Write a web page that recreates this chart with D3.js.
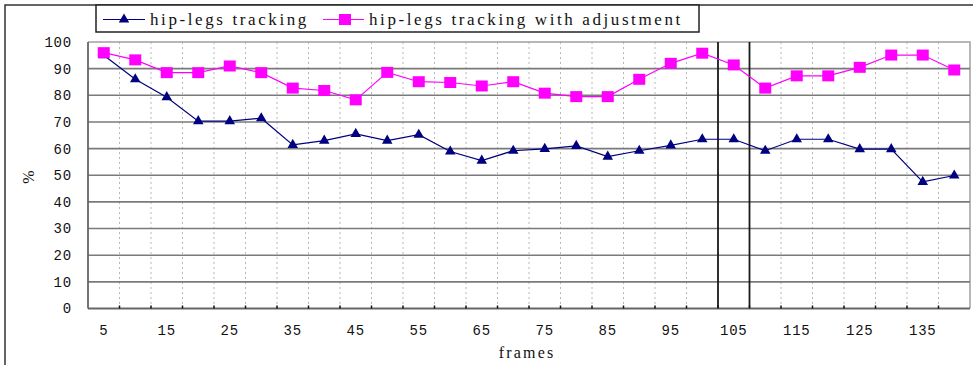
<!DOCTYPE html>
<html>
<head>
<meta charset="utf-8">
<script src="https://cdn.jsdelivr.net/npm/d3@7"></script>
<style>
  html, body { margin: 0; padding: 0; background: #fff; }
  svg { display: block; }
</style>
</head>
<body>
<svg id="chart" width="973" height="365"></svg>
<script>
const frames = [5,10,15,20,25,30,35,40,45,50,55,60,65,70,75,80,85,90,95,100,105,110,115,120,125,130,135,140];
const tracking = [95,86,79.3,70.3,70.3,71.4,61.4,63,65.5,63,65.2,58.9,55.5,59.2,59.9,61,57,59.2,61.2,63.5,63.5,59.2,63.5,63.5,59.8,59.8,47.5,49.9];
const trackingAdj = [96,93.3,88.5,88.5,91,88.5,82.7,81.8,78.3,88.6,85.1,84.8,83.5,85.1,80.8,79.5,79.5,86,92,95.8,91.4,82.7,87.3,87.3,90.5,95.1,95.1,89.5];
const yTicks = [0,10,20,30,40,50,60,70,80,90,100];
const xTickLabels = [5,15,25,35,45,55,65,75,85,95,105,115,125,135];
const highlightFrame = 105;
const seriesNames = ["hip-legs tracking", "hip-legs tracking with adjustment"];

const svg = d3.select("#chart");
const L = 88, R = 970, T = 42, B = 308.5;
const serif = "Liberation Serif, DejaVu Serif, serif";

const x = d3.scaleBand().domain(frames).range([L, R]).padding(0);
const y = d3.scaleLinear().domain([0, 100]).range([B, T]);
const cx = d => x(d) + x.bandwidth() / 2;

// outer frame
svg.append("path").attr("d", `M5,370 V5 H980`).attr("fill", "none")
  .attr("stroke", "#333").attr("stroke-width", 1.5);

// vertical dotted grid at category boundaries
const bounds = d3.range(1, frames.length).map(i => L + i * x.bandwidth());
svg.append("g").selectAll("line").data(bounds).join("line")
  .attr("x1", d => d).attr("x2", d => d).attr("y1", T).attr("y2", B)
  .attr("stroke", "#b8b8b8").attr("stroke-width", 1).attr("stroke-dasharray", "2,3");

// plot border top/right
svg.append("path").attr("d", `M${L},${T} H${R} V${B}`).attr("fill", "none")
  .attr("stroke", "#a0a0a0").attr("stroke-width", 1.5);

// horizontal gridlines
svg.append("g").selectAll("line").data(yTicks.filter(v => v > 0 && v < 100)).join("line")
  .attr("x1", L).attr("x2", R).attr("y1", d => y(d)).attr("y2", d => y(d))
  .attr("stroke", "#7a7a7a").attr("stroke-width", 1.6);

// highlight box around 105
const hx0 = x(highlightFrame), hx1 = x(highlightFrame) + x.bandwidth();
svg.append("g").selectAll("line").data([hx0, hx1]).join("line")
  .attr("x1", d => d).attr("x2", d => d).attr("y1", T).attr("y2", B)
  .attr("stroke", "#1a1a1a").attr("stroke-width", 1.8);

// axes lines
svg.append("line").attr("x1", L).attr("x2", L).attr("y1", T).attr("y2", B)
  .attr("stroke", "#666").attr("stroke-width", 1.8);
svg.append("line").attr("x1", L).attr("x2", R).attr("y1", B).attr("y2", B)
  .attr("stroke", "#666").attr("stroke-width", 1.8);
// small tick marks at bottom
svg.append("g").selectAll("line").data(bounds).join("line")
  .attr("x1", d => d).attr("x2", d => d).attr("y1", B - 3).attr("y2", B)
  .attr("stroke", "#111").attr("stroke-width", 1.5);

// y tick labels
svg.append("g").selectAll("text").data(yTicks).join("text")
  .attr("x", 72).attr("y", d => y(d)).attr("dy", "0.35em")
  .attr("text-anchor", "end")
  .attr("font-family", "Liberation Mono, monospace").attr("font-size", 14)
  .attr("letter-spacing", 0.8).attr("fill", "#111")
  .text(d => d);

// x tick labels
svg.append("g").selectAll("text").data(xTickLabels).join("text")
  .attr("x", d => cx(d)).attr("y", 335)
  .attr("text-anchor", "middle")
  .attr("font-family", "Liberation Mono, monospace").attr("font-size", 14)
  .attr("letter-spacing", 0.8).attr("fill", "#111")
  .text(d => d);

// axis titles
svg.append("text").attr("x", 527).attr("y", 358).attr("text-anchor", "middle")
  .attr("font-family", serif).attr("font-size", 16)
  .attr("letter-spacing", 2.2).attr("fill", "#111").text("frames");
svg.append("text").attr("transform", "translate(28,177) rotate(-90)")
  .attr("text-anchor", "middle").attr("dy", "0.35em")
  .attr("font-family", serif).attr("font-size", 16)
  .attr("fill", "#111").text("%");

// series lines
const line = d3.line().x((d, i) => cx(frames[i])).y(d => y(d));
svg.append("path").datum(trackingAdj).attr("d", line).attr("fill", "none")
  .attr("stroke", "#ff00ff").attr("stroke-width", 1.2);
svg.append("path").datum(tracking).attr("d", line).attr("fill", "none")
  .attr("stroke", "#000080").attr("stroke-width", 1.2);

// markers
const tri = d3.symbol().type(d3.symbolTriangle).size(48);
svg.append("g").selectAll("path").data(tracking).join("path")
  .attr("transform", (d, i) => `translate(${cx(frames[i])},${y(d)})`)
  .attr("d", tri()).attr("fill", "#000080");
svg.append("g").selectAll("rect").data(trackingAdj).join("rect")
  .attr("x", (d, i) => cx(frames[i]) - 6).attr("y", d => y(d) - 5.5)
  .attr("width", 12).attr("height", 11).attr("fill", "#ff00ff");

// legend
svg.append("rect").attr("x", 96).attr("y", 5).attr("width", 603).attr("height", 27)
  .attr("fill", "#fff").attr("stroke", "#222").attr("stroke-width", 1.5);
const ly = 19.5;
svg.append("line").attr("x1", 103).attr("x2", 145).attr("y1", ly).attr("y2", ly)
  .attr("stroke", "#000080").attr("stroke-width", 1.2);
svg.append("path").attr("transform", `translate(124,${ly})`).attr("d", tri()).attr("fill", "#000080");
svg.append("text").attr("x", 150).attr("y", ly).attr("dy", "0.35em")
  .attr("font-family", serif).attr("font-size", 17).attr("letter-spacing", 2.6)
  .attr("fill", "#111").text(seriesNames[0]);
svg.append("line").attr("x1", 323).attr("x2", 364).attr("y1", ly).attr("y2", ly)
  .attr("stroke", "#ff00ff").attr("stroke-width", 1.2);
svg.append("rect").attr("x", 339).attr("y", ly - 5.5).attr("width", 12).attr("height", 11).attr("fill", "#ff00ff");
svg.append("text").attr("x", 369).attr("y", ly).attr("dy", "0.35em")
  .attr("font-family", serif).attr("font-size", 17).attr("letter-spacing", 2.6)
  .attr("fill", "#111").text(seriesNames[1]);
</script>
</body>
</html>
